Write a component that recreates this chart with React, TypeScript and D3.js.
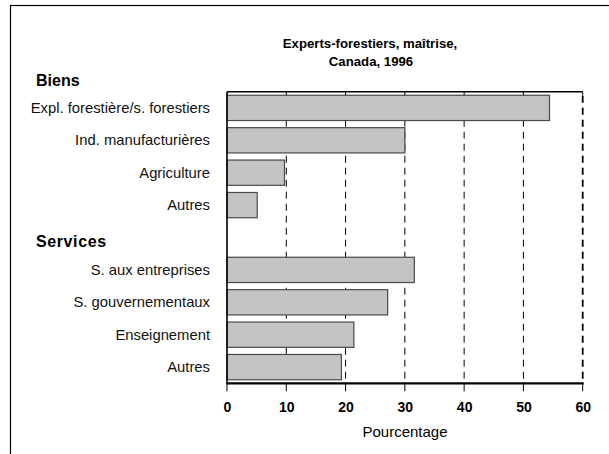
import React from "react";
import * as d3 from "d3";

const titleLines = ["Experts-forestiers, maîtrise,", "Canada, 1996"];
const groupNames = ["Biens", "Services"];
const biensLabels = ["Expl. forestière/s. forestiers", "Ind. manufacturières", "Agriculture", "Autres"];
const biensValues = [54.4, 30.0, 9.7, 5.1];
const servicesLabels = ["S. aux entreprises", "S. gouvernementaux", "Enseignement", "Autres"];
const servicesValues = [31.6, 27.1, 21.4, 19.3];
const xTicks = [0, 10, 20, 30, 40, 50, 60];
const xTitle = "Pourcentage";

const W = 609;
const H = 454;
const FONT = "'Liberation Sans', Arial, Helvetica, sans-serif";

export default function App() {
  const left = 227, right = 582.7, top = 91.7, bottom = 383.3;
  const rows = [
    ...biensLabels.map((l, i) => ({ id: "b" + i, label: l, value: biensValues[i] })),
    { id: "gap", label: "", value: null as number | null },
    ...servicesLabels.map((l, i) => ({ id: "s" + i, label: l, value: servicesValues[i] })),
  ];
  const x = d3.scaleLinear().domain([0, 60]).range([left, right]);
  const y = d3.scaleBand<string>().domain(rows.map((r) => r.id)).range([top, bottom]).paddingInner(0.22).paddingOuter(0.11);

  return (
    <svg width={W} height={H} style={{ position: "absolute", left: 0, top: 0, fontFamily: FONT }}>
      <rect x={0} y={0} width={W} height={H} fill="#fff" />
      <rect x={10.5} y={5.5} width={700} height={600} fill="none" stroke="#000" strokeWidth={1.2} />
      {/* title */}
      <text x={370} y={48} textAnchor="middle" fontWeight="bold" fontSize={13.2}>{titleLines[0]}</text>
      <text x={371} y={66} textAnchor="middle" fontWeight="bold" fontSize={13.2}>{titleLines[1]}</text>
      {/* group headers */}
      <text x={36} y={86} fontWeight="bold" fontSize={16}>{groupNames[0]}</text>
      <text x={36} y={247} fontWeight="bold" fontSize={16} letterSpacing={0.6}>{groupNames[1]}</text>
      {/* gridlines */}
      {xTicks.slice(1).map((t) => (
        <g key={"g" + t}>
          <line x1={x(t)} x2={x(t)} y1={top} y2={bottom} stroke="#000" strokeWidth={t === 60 ? 1.8 : 1} strokeDasharray="7,5" strokeDashoffset={-4} />
          <line x1={x(t)} x2={x(t)} y1={top} y2={top + 4} stroke="#000" strokeWidth={1} />
        </g>
      ))}
      {/* bars */}
      {rows.filter((r) => r.value !== null).map((r) => (
        <rect key={r.id} x={x(0)} y={y(r.id)!} width={x(r.value as number) - x(0)} height={y.bandwidth()}
          fill="#c4c4c4" stroke="#4a4a4a" strokeWidth={1.2} />
      ))}
      {/* category labels */}
      {rows.filter((r) => r.label).map((r) => (
        <text key={"l" + r.id} x={210} y={y(r.id)! + y.bandwidth() / 2 + 5} textAnchor="end" fontSize={14.8} fill="#111">{r.label}</text>
      ))}
      {/* frame lines */}
      <line x1={left} x2={right} y1={top} y2={top} stroke="#000" strokeWidth={1.5} />
      <line x1={left} x2={left} y1={top} y2={bottom + 1} stroke="#000" strokeWidth={1.6} />
      <line x1={left} x2={right + 1} y1={bottom} y2={bottom} stroke="#000" strokeWidth={2.2} />
      {/* x ticks */}
      {xTicks.map((t) => (
        <g key={"t" + t}>
          <line x1={x(t)} x2={x(t)} y1={bottom} y2={bottom + 8} stroke="#000" strokeWidth={1} />
          <text x={x(t) + 0.5} y={411.7} textAnchor="middle" fontWeight="bold" fontSize={14}>{t}</text>
        </g>
      ))}
      <text x={405} y={437} textAnchor="middle" fontSize={15}>{xTitle}</text>
    </svg>
  );
}
